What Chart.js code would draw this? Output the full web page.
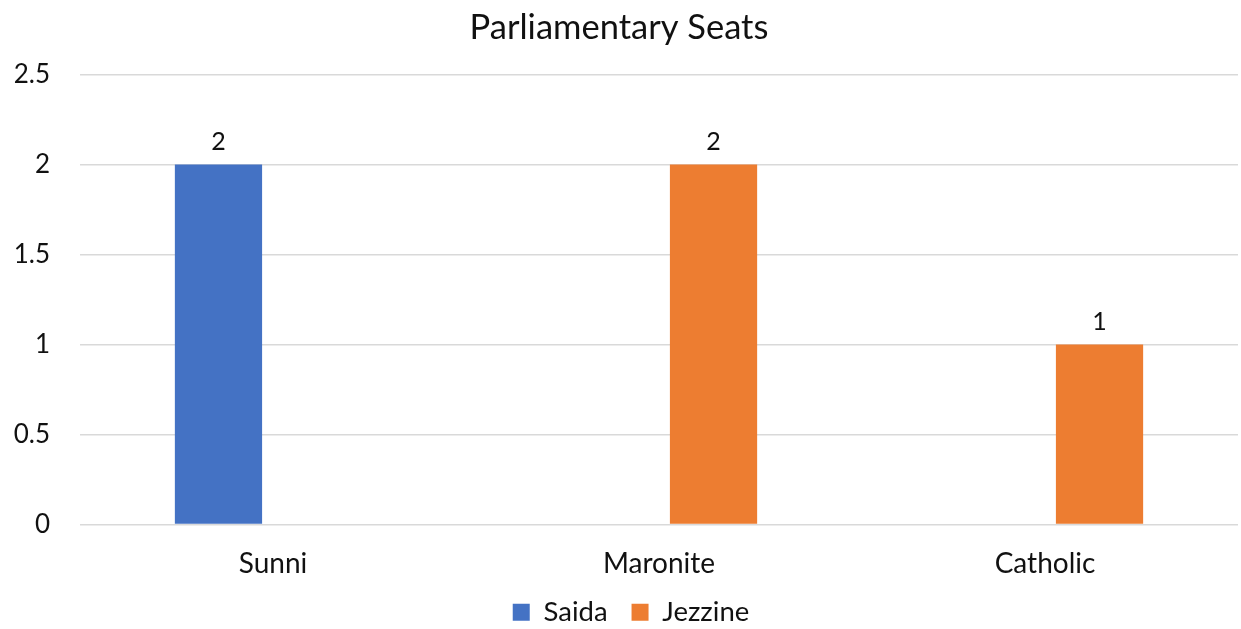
<!DOCTYPE html>
<html>
<head>
<meta charset="utf-8">
<script src="https://cdn.jsdelivr.net/npm/chart.js@4/dist/chart.umd.min.js"></script>
<style>
  html, body { margin: 0; padding: 0; background: #fff; }
  #wrap { width: 1241px; height: 629px; }
</style>
</head>
<body>
<div id="wrap"><canvas id="c" width="1241" height="629"></canvas></div>
<script>
const categories = ['Sunni', 'Maronite', 'Catholic'];
const saidaValues = [2, null, null];
const jezzineValues = [null, 2, 1];
const seriesNames = ['Saida', 'Jezzine'];
const yTicks = [0, 0.5, 1, 1.5, 2, 2.5];

const FONT = 'Lato, "Open Sans", sans-serif';
const TXT = '#111111';

const valueLabels = {
  id: 'valueLabels',
  afterDatasetsDraw(chart) {
    const ctx = chart.ctx;
    ctx.save();
    ctx.font = '25px ' + FONT;
    ctx.fillStyle = TXT;
    ctx.textAlign = 'center';
    ctx.textBaseline = 'alphabetic';
    chart.data.datasets.forEach((ds, di) => {
      const meta = chart.getDatasetMeta(di);
      meta.data.forEach((el, i) => {
        const v = ds.data[i];
        if (v === null || v === undefined) return;
        ctx.fillText(String(v), el.x, el.y - 14);
      });
    });
    ctx.restore();
  }
};

const legendShift = {
  id: 'legendShift',
  afterLayout(chart) {
    const l = chart.legend;
    if (l) { l.left += 12; l.right += 12; }
  }
};

new Chart(document.getElementById('c'), {
  type: 'bar',
  data: {
    labels: categories,
    datasets: [
      { label: seriesNames[0], data: saidaValues, backgroundColor: '#4472C4', borderWidth: 0 },
      { label: seriesNames[1], data: jezzineValues, backgroundColor: '#ED7D31', borderWidth: 0 }
    ]
  },
  options: {
    responsive: false,
    animation: false,
    events: [],
    layout: { padding: { left: 0, right: 3, top: 0, bottom: -7 } },
    datasets: { bar: { categoryPercentage: 0.565, barPercentage: 0.8, skipNull: false } },
    plugins: {
      title: {
        display: true,
        text: 'Parliamentary Seats',
        color: TXT,
        font: { family: FONT, size: 34.5, weight: 'normal' },
        padding: { top: 7, bottom: 26 }
      },
      legend: {
        display: true,
        position: 'bottom',
        labels: {
          color: TXT,
          font: { family: FONT, size: 27.5 },
          boxWidth: 17,
          boxHeight: 17,
          padding: 24
        }
      },
      tooltip: { enabled: false }
    },
    scales: {
      x: {
        grid: { display: false, drawTicks: false },
        border: { display: false },
        ticks: { color: TXT, font: { family: FONT, size: 28 }, padding: 23 },
        afterFit(scale) { scale.height = 50; }
      },
      y: {
        min: 0,
        max: 2.5,
        afterBuildTicks(scale) { scale.ticks = yTicks.map(v => ({ value: v })); },
        grid: { color: '#d9d9d9', lineWidth: 1.5, drawTicks: false },
        border: { display: false },
        ticks: {
          color: TXT,
          font: { family: FONT, size: 26 },
          padding: 30,
          callback: (v) => String(v)
        },
        afterFit(scale) { scale.width = 80; }
      }
    }
  },
  plugins: [valueLabels, legendShift]
});
</script>
</body>
</html>
